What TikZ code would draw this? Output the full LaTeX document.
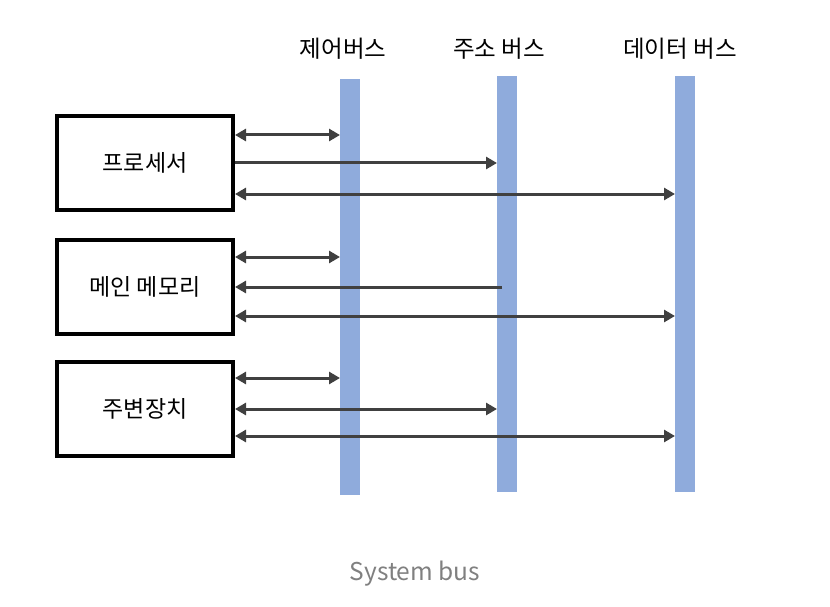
\documentclass[tikz,border=0pt]{standalone}
\usepackage{fontspec}
\setmainfont{Noto Sans CJK KR}
\usetikzlibrary{arrows.meta}
\definecolor{busblue}{HTML}{8FABDC}
\definecolor{arrowgray}{HTML}{404040}
\definecolor{captiongray}{HTML}{808080}
\tikzset{
  unitbox/.style={draw=black, line width=4pt, minimum width=176pt, minimum height=94pt, font=\fontsize{23}{27}\selectfont, inner sep=0pt},
  busbar/.style={fill=busblue, draw=none},
  buslabel/.style={font=\fontsize{23.5}{27}\selectfont, inner sep=0pt},
  link/.style={draw=arrowgray, line width=3pt, -{Triangle[length=11pt,width=12pt]}},
  dlink/.style={draw=arrowgray, line width=3pt, {Triangle[length=11pt,width=12pt]}-{Triangle[length=11pt,width=12pt]}},
}
\begin{document}
\begin{tikzpicture}[x=1pt,y=-1pt]
\useasboundingbox (0,0) rectangle (830,607);
% bus bars
\fill[busbar] (340,79) rectangle (360,495);
\fill[busbar] (497,76) rectangle (517,492);
\fill[busbar] (675,76) rectangle (695,492);
\coordinate (cb) at (340,0);
\coordinate (ab) at (497,0);
\coordinate (db) at (675,0);
\coordinate (ai) at (502,0);
% bus labels
\node[buslabel] (lc) at (343,49) {제어버스};
\node[buslabel] (la) at (499,49) {주소 버스};
\node[buslabel] (ld) at (680,49) {데이터 버스};
% units
\node[unitbox] (cpu) at (145,163) {프로세서};
\node[unitbox] (mem) at (145,287) {메인 메모리};
\node[unitbox] (io)  at (145,409) {주변장치};
% processor
\draw[dlink] (cpu.east |- 0,135) -- (cb |- 0,135);
\draw[link]  (cpu.east |- 0,163) -- (ab |- 0,163);
\draw[dlink] (cpu.east |- 0,194) -- (db |- 0,194);
% memory
\draw[dlink] (mem.east |- 0,257) -- (cb |- 0,257);
\draw[link]  (ai |- 0,287) -- (mem.east |- 0,287);
\draw[dlink] (mem.east |- 0,316) -- (db |- 0,316);
% peripherals
\draw[dlink] (io.east |- 0,378) -- (cb |- 0,378);
\draw[dlink] (io.east |- 0,409) -- (ab |- 0,409);
\draw[dlink] (io.east |- 0,436) -- (db |- 0,436);
% caption
\node[font=\fontsize{24.5}{28}\selectfont, text=captiongray] (cap) at (415,574) {System bus};
\end{tikzpicture}
\end{document}
